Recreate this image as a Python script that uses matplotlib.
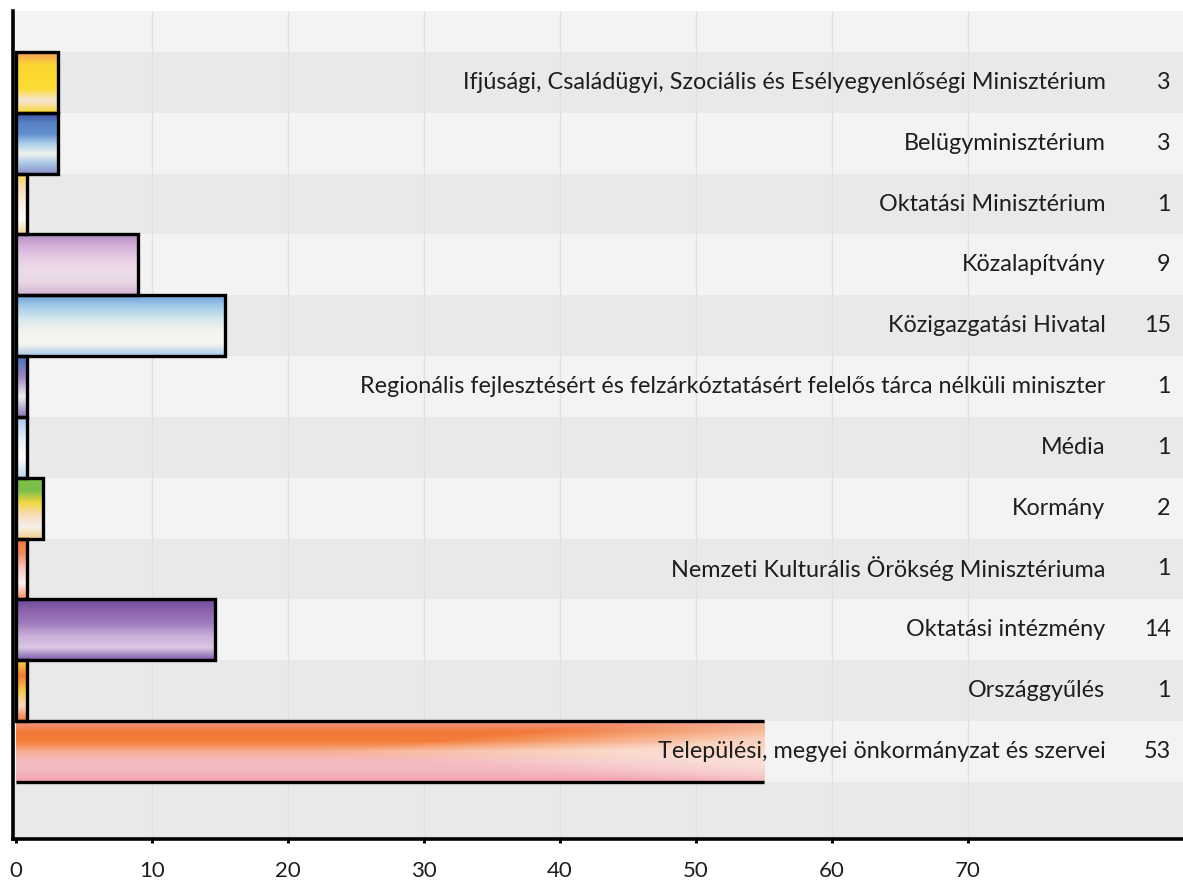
import numpy as np
import matplotlib
matplotlib.use('Agg')
import matplotlib.pyplot as plt
from matplotlib.colors import to_rgb

plt.rcParams['font.family'] = ['Lato', 'DejaVu Sans']

labels = [
    'Ifjúsági, Családügyi, Szociális és Esélyegyenlőségi Minisztérium',
    'Belügyminisztérium',
    'Oktatási Minisztérium',
    'Közalapítvány',
    'Közigazgatási Hivatal',
    'Regionális fejlesztésért és felzárkóztatásért felelős tárca nélküli miniszter',
    'Média',
    'Kormány',
    'Nemzeti Kulturális Örökség Minisztériuma',
    'Oktatási intézmény',
    'Országgyűlés',
    'Települési, megyei önkormányzat és szervei',
]
counts = [3, 3, 1, 9, 15, 1, 1, 2, 1, 14, 1, 53]
# bar lengths as drawn in the picture (the last one runs past its label)
bar_len = [3.1, 3.1, 0.8, 9.0, 15.4, 0.8, 0.8, 2.0, 0.8, 14.6, 0.8, 55.0]
ticks = [0, 10, 20, 30, 40, 50, 60, 70]

# colour stripes, top to bottom, for each bar
stripes = [
    ['#f49a5a', '#fbd633', '#fcd92e', '#fcdc34', '#f6e6d8', '#fbd830'],
    ['#3a4fa6', '#5a84c6', '#5f8ccc', '#a9cdeb', '#eef2ee', '#a8c6e6', '#8a8ec6'],
    ['#f8d44a', '#fadcb8', '#fbeee0', '#ffffff', '#f6d696'],
    ['#b58cc3', '#d4b2da', '#e6cce4', '#ecdce8', '#e8d6e4', '#d3b2d6'],
    ['#6f9fd8', '#a8cfe9', '#d8e8ec', '#f4f4f0', '#f8f6f2', '#a8c8e6'],
    ['#4570c0', '#9b86c2', '#f2eef2', '#8878bc'],
    ['#a4c8ec', '#e4eef6', '#ffffff', '#b8d4ec'],
    ['#7bbf4a', '#7bbf4a', '#f0d840', '#f8dcb8', '#f4f0ea', '#f6d090'],
    ['#f47638', '#f48a60', '#f8c8c8', '#fbeef0', '#f49060'],
    ['#6a4a9c', '#8e64ae', '#a07cbc', '#c8aed8', '#dcc8e4', '#7a5aa8'],
    ['#f8d440', '#f47a3a', '#f8c848', '#f8d8c0', '#f47a3a'],
    ['#f29a8a', '#f27a3a', '#f47c38', '#f8b090', '#f4bcc4', '#f4b8c0', '#f4a0b0'],
]


def stripe_img(cols, n=120):
    pos = np.linspace(0, 1, len(cols))
    rgb = np.array([to_rgb(c) for c in cols])
    t = np.linspace(0, 1, n)
    return np.stack([np.interp(t, pos, rgb[:, k]) for k in range(3)], axis=1)


fig = plt.figure(figsize=(11.83, 8.86), dpi=100)
ax = fig.add_axes([13 / 1183, 1 - 839 / 886, 1 - 13 / 1183, (839 - 11) / 886])

y = np.arange(len(labels))
ylim = (12.44, -1.175)
xlim = (-0.22, 85.8)

# alternating row bands
for i in range(-1, len(labels) + 1):
    ax.axhspan(i - 0.5, i + 0.5, color='#e9e9e9' if i % 2 == 0 else '#f3f3f3',
               lw=0, zorder=0)

for t in ticks[1:]:
    ax.axvline(t, color='#e0e0e0', lw=1.0, zorder=0.5)

bars = ax.barh(y, bar_len, height=1.0, color='none', edgecolor='black',
               lw=2.4, zorder=3)

for i, b in enumerate(bars):
    x0, y0 = b.get_x(), b.get_y()
    w, h = b.get_width(), b.get_height()
    col = stripe_img(stripes[i])
    img = np.repeat(col[:, None, :], 200, axis=1)
    if i == len(bars) - 1:
        # last bar fades to a pale tone toward its right end
        xx = np.linspace(0, 1, img.shape[1])[None, :]
        yy = np.linspace(0, 1, img.shape[0])[:, None]
        wgt = np.clip((xx - 0.4 - 0.9 * np.abs(yy - 0.5)) / 0.4, 0, 1) * 0.8
        pale = np.array(to_rgb('#fbe6dc'))
        img = img * (1 - wgt[..., None]) + pale * wgt[..., None]
        b.set_edgecolor('none')
        ax.hlines([y0, y0 + h], x0, x0 + w, color='black', lw=2.4, zorder=4)
    im = ax.imshow(img, extent=(x0, x0 + w, y0 + h, y0), origin='upper',
                   aspect='auto', interpolation='bilinear', zorder=2)
    im.set_clip_path(b)

for i in range(len(labels)):
    ax.text(80.1, y[i], labels[i], ha='right', va='center', fontsize=16.8,
            color='#1e1e1e', zorder=5)
    ax.text(84.9, y[i], str(counts[i]), ha='right', va='center', fontsize=16.8,
            color='#1e1e1e', zorder=5)

ax.set_xlim(*xlim)
ax.set_ylim(*ylim)
ax.set_xticks(ticks)
ax.set_xticklabels([str(t) for t in ticks], fontsize=16, color='#1e1e1e')
ax.tick_params(axis='x', direction='out', length=3, width=2.2, pad=13)
ax.set_yticks([])
for s in ['top', 'right']:
    ax.spines[s].set_visible(False)
ax.spines['left'].set_linewidth(2.6)
ax.spines['bottom'].set_linewidth(2.6)

fig.savefig('out.png', dpi=100, facecolor='white')
